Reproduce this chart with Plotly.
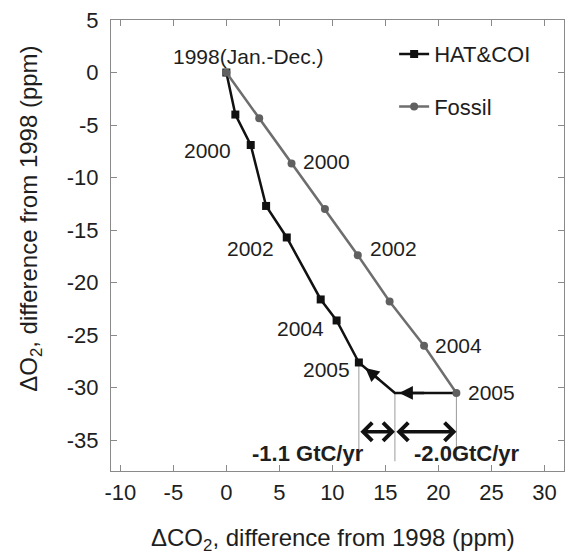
import plotly.graph_objects as go

# ---------------- data ----------------
years = [1998, 1999, 2000, 2001, 2002, 2003, 2004, 2005]
hat_co2 = [0.0, 0.85, 2.3, 3.75, 5.7, 8.9, 10.4, 12.5]
hat_o2 = [0.0, -4.0, -6.9, -12.7, -15.7, -21.6, -23.6, -27.6]
fossil_co2 = [0.0, 3.1, 6.15, 9.3, 12.4, 15.4, 18.65, 21.7]
fossil_o2 = [0.0, -4.35, -8.65, -13.0, -17.4, -21.8, -26.0, -30.5]

# budget path: fossil 2005 -> corner -> HAT&COI 2005
path_co2 = [21.7, 15.9, 12.5]
path_o2 = [-30.5, -30.5, -27.6]

# drop lines
drop_x = [12.5, 15.9, 21.7]
drop_top = [-27.6, -30.5, -30.5]
drop_bottom = -37.0

# flux arrows
flux_y = -34.2
flux_segments = [(12.5, 15.9), (15.9, 21.7)]
flux_labels = ["-1.1 GtC/yr", "-2.0GtC/yr"]
flux_label_x = [7.7, 22.7]
flux_label_y = -36.25

# year labels
lab_text = ["1998(Jan.-Dec.)", "2000", "2000", "2002", "2002", "2004", "2004", "2005", "2005"]
lab_x = [2.1, -1.8, 9.45, 2.3, 15.8, 6.95, 21.9, 9.45, 25.0]
lab_y = [1.55, -7.45, -8.5, -16.75, -16.75, -24.4, -25.95, -28.3, -30.5]

xticks = [-10, -5, 0, 5, 10, 15, 20, 25, 30]
xticklabels = ["-10", "-5", "0", "5", "10", "15", "20", "25", "30"]
yticks = [5, 0, -5, -10, -15, -20, -25, -30, -35]
yticklabels = ["5", "0", "-5", "-10", "-15", "-20", "-25", "-30", "-35"]

FONT = "Liberation Sans, Arial, sans-serif"
TXT = "#1e1e1e"
AX = "#8a8a8a"

fig = go.Figure()

# drop lines
for x0, y0 in zip(drop_x, drop_top):
    fig.add_trace(go.Scatter(x=[x0, x0], y=[y0, drop_bottom], mode="lines",
                             line=dict(color="#9a9a9a", width=1), showlegend=False,
                             hoverinfo="skip"))

# budget path
fig.add_trace(go.Scatter(x=path_co2, y=path_o2, mode="lines",
                         line=dict(color="#111111", width=2.5), showlegend=False))

fig.add_trace(go.Scatter(x=hat_co2, y=hat_o2, mode="lines+markers", name="HAT&COI",
                         legendgroup="a",
                         line=dict(color="#111111", width=2.5),
                         marker=dict(symbol="square", size=8, color="#111111")))
fig.add_trace(go.Scatter(x=fossil_co2, y=fossil_o2, mode="lines+markers", name="Fossil",
                         legendgroup="b",
                         line=dict(color="#6e6e6e", width=2.5),
                         marker=dict(symbol="circle", size=8, color="#606060")))

annotations = []
for t, x, y in zip(lab_text, lab_x, lab_y):
    annotations.append(dict(x=x, y=y, xref="x", yref="y", text=t, showarrow=False,
                            font=dict(size=21, color=TXT, family=FONT)))

for t, x in zip(flux_labels, flux_label_x):
    annotations.append(dict(x=x, y=flux_label_y, xref="x", yref="y", text="<b>" + t + "</b>",
                            showarrow=False, font=dict(size=22, color=TXT, family=FONT)))

# double-headed flux arrows
for x0, x1 in flux_segments:
    annotations.append(dict(x=x1, y=flux_y, ax=x0, ay=flux_y, xref="x", yref="y",
                            axref="x", ayref="y", text="", showarrow=True,
                            arrowside="end+start", arrowhead=4, startarrowhead=4,
                            arrowwidth=3.5, arrowsize=1.0, startarrowsize=1.0,
                            arrowcolor="#111111"))

# direction arrowheads on budget path
hx_tip = path_co2[1] + 0.4
annotations.append(dict(x=hx_tip, y=path_o2[1], ax=hx_tip + 2.5, ay=path_o2[1],
                        xref="x", yref="y", axref="x", ayref="y", text="", showarrow=True,
                        arrowhead=2, arrowwidth=2.5, arrowsize=1.1, arrowcolor="#111111"))
dx = path_co2[2] - path_co2[1]
dy = path_o2[2] - path_o2[1]
t_tip, t_tail = 0.82, 0.4
annotations.append(dict(x=path_co2[1] + t_tip * dx, y=path_o2[1] + t_tip * dy,
                        ax=path_co2[1] + t_tail * dx, ay=path_o2[1] + t_tail * dy,
                        xref="x", yref="y", axref="x", ayref="y", text="", showarrow=True,
                        arrowhead=2, arrowwidth=2.5, arrowsize=1.1, arrowcolor="#111111"))

# axis titles
annotations.append(dict(x=0.49, y=-0.152, xref="paper", yref="paper",
                        text="ΔCO<sub>2</sub>, difference from 1998 (ppm)", showarrow=False,
                        xanchor="center", yanchor="middle",
                        font=dict(size=24, color=TXT, family=FONT)))
annotations.append(dict(x=-0.178, y=0.56, xref="paper", yref="paper",
                        text="ΔO<sub>2</sub>, difference from 1998 (ppm)", showarrow=False,
                        textangle=-90, xanchor="center", yanchor="middle",
                        font=dict(size=24, color=TXT, family=FONT)))

axis_common = dict(showgrid=False, zeroline=False, showline=True, linecolor=AX, linewidth=1.3,
                   mirror="ticks", ticks="inside", ticklen=6, tickwidth=1.3, tickcolor=AX,
                   tickfont=dict(size=22, color=TXT, family=FONT))

fig.update_xaxes(range=[-10.88, 31.85], tickvals=xticks, ticktext=xticklabels,
                 ticklabelstandoff=1, **axis_common)
fig.update_yaxes(range=[-37.93, 5.0], tickvals=yticks, ticktext=yticklabels,
                 ticklabelstandoff=7, **axis_common)

fig.update_layout(
    width=568, height=556,
    margin=dict(l=111, r=4, t=20, b=85),
    paper_bgcolor="white", plot_bgcolor="white",
    font=dict(family=FONT, color=TXT),
    showlegend=True,
    legend=dict(x=0.625, y=0.971, xanchor="left", yanchor="top",
                font=dict(size=22, color=TXT, family=FONT),
                bgcolor="rgba(0,0,0,0)", tracegroupgap=21),
    annotations=annotations,
)

fig.write_html("out.html")
